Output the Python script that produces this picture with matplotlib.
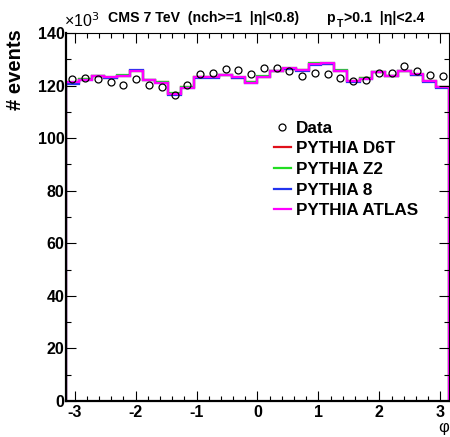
import numpy as np
import matplotlib.pyplot as plt
from matplotlib.ticker import MultipleLocator

plt.rcParams['font.family'] = ['Liberation Sans', 'DejaVu Sans']
plt.rcParams['axes.unicode_minus'] = False

# 30 bins in phi, counts in units of 10^3
n_bins = 30
data = [122.6, 123.0, 122.5, 121.2, 120.4, 122.5, 120.4, 119.6, 116.4, 120.3,
        124.3, 124.6, 126.4, 125.9, 124.3, 126.5, 126.7, 125.6, 123.7, 124.9,
        124.3, 122.7, 121.8, 122.3, 124.9, 124.9, 127.6, 125.4, 124.1, 123.7]

atlas = [121.5, 122.3, 123.6, 123.1, 123.6, 125.6, 122.1, 121.1, 116.8, 119.2,
         123.1, 123.3, 124.0, 123.1, 121.1, 123.3, 125.6, 126.5, 125.9, 128.2,
         128.4, 125.6, 121.8, 122.6, 125.2, 123.7, 125.4, 124.3, 121.8, 119.3]
d6t = [121.0, 122.4, 123.7, 123.0, 123.7, 125.7, 122.2, 121.2, 116.9, 119.3,
       123.2, 123.4, 124.1, 123.0, 121.2, 123.4, 125.7, 126.4, 125.8, 128.3,
       128.3, 125.5, 121.7, 122.7, 125.3, 123.6, 125.5, 124.2, 121.9, 119.4]
z2 = [121.3, 122.5, 123.7, 123.2, 124.0, 125.7, 122.3, 121.3, 117.0, 119.3,
      123.4, 123.2, 124.2, 123.2, 121.2, 123.5, 125.7, 126.6, 126.0, 128.4,
      128.6, 125.8, 121.9, 122.7, 125.3, 123.8, 125.5, 124.4, 121.9, 119.4]
py8 = [120.6, 122.1, 123.8, 123.0, 123.5, 125.8, 122.0, 121.0, 116.5, 119.1,
       122.9, 122.8, 123.9, 123.0, 121.0, 123.1, 125.4, 126.3, 125.7, 128.0,
       128.3, 125.4, 121.4, 122.5, 125.1, 123.5, 125.6, 124.1, 121.5, 119.2]

labels = ['PYTHIA D6T', 'PYTHIA Z2', 'PYTHIA 8', 'PYTHIA ATLAS']
colors = ['#e0101a', '#22dd22', '#2233ee', '#ff00ff']

edges = np.linspace(-np.pi, np.pi, n_bins + 1)
centers = 0.5 * (edges[:-1] + edges[1:])

fig = plt.figure(figsize=(4.5, 4.37), dpi=100)
ax = fig.add_axes([0.1467, 0.0824, 0.851, 0.8421])

for vals, c, lab in zip([d6t, z2, py8, atlas], colors, labels):
    ax.stairs(vals, edges, color=c, lw=1.6, label=lab)
ax.plot(centers, data, 'o', mfc='none', mec='black', mew=0.9, ms=5, label='Data')

ax.set_xlim(-np.pi, np.pi)
ax.set_ylim(0, 140)
ax.xaxis.set_major_locator(MultipleLocator(1))
ax.xaxis.set_minor_locator(MultipleLocator(0.2))
ax.yaxis.set_major_locator(MultipleLocator(20))
ax.yaxis.set_minor_locator(MultipleLocator(10))
ax.tick_params(which='both', direction='in', top=True, right=True, width=0.8)
ax.tick_params(which='major', length=7)
ax.tick_params(which='minor', length=3.5)
for lbl in ax.get_xticklabels() + ax.get_yticklabels():
    lbl.set_fontweight('bold')
    lbl.set_fontsize(11.5)
ax.tick_params(axis='x', pad=3)
ax.tick_params(axis='y', pad=1)
for side in ['left', 'bottom']:
    ax.spines[side].set_linewidth(1.6)
    ax.spines[side].set_zorder(5)
for side in ['top', 'right']:
    ax.spines[side].set_linewidth(0.8)

ax.set_xlabel('φ', fontsize=12)
ax.xaxis.set_label_coords(0.985, -0.053)
fig.text(0.035, 0.84, '# events', rotation=90, fontsize=14.5, fontweight='bold',
         ha='center', va='center')
fig.text(0.142, 0.952, '×10$^3$', fontsize=11.5, ha='left', va='center')
fig.text(0.24, 0.958, 'CMS 7 TeV  (nch>=1  |η|<0.8)', fontsize=10.2, fontweight='bold',
         ha='left', va='center')
fig.text(0.725, 0.958, 'p', fontsize=10.2, fontweight='bold', ha='left', va='center')
fig.text(0.749, 0.946, 'T', fontsize=7.5, fontweight='bold', ha='left', va='center')
fig.text(0.765, 0.958, '>0.1  |η|<2.4', fontsize=10.2, fontweight='bold',
         ha='left', va='center')

handles, labs = ax.get_legend_handles_labels()
order = [4, 0, 1, 2, 3]
leg = ax.legend([handles[i] for i in order], [labs[i] for i in order],
                loc='upper left', bbox_to_anchor=(0.526, 0.78), frameon=False,
                prop={'weight': 'bold', 'size': 12.3}, handlelength=0.95,
                handletextpad=0.3, labelspacing=0.33, borderaxespad=0)

fig.savefig('out.png', dpi=100)
